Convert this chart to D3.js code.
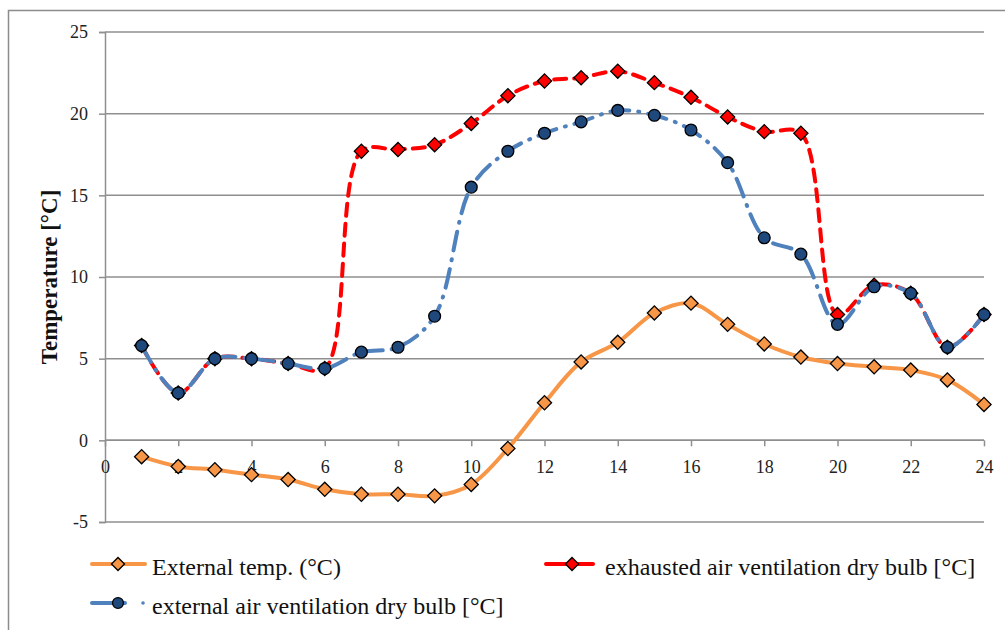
<!DOCTYPE html>
<html>
<head>
<meta charset="utf-8">
<script src="https://cdn.jsdelivr.net/npm/d3@7"></script>
<style>
  html, body { margin: 0; padding: 0; background: #fff; }
  svg { display: block; }
  svg text { font-family: "Liberation Serif", "Times New Roman", serif; }
</style>
</head>
<body>
<svg id="chart" width="1005" height="630"></svg>
<script>
// Hour of the day
const hours = [1,2,3,4,5,6,7,8,9,10,11,12,13,14,15,16,17,18,19,20,21,22,23,24];

// Outside air temperature (°C)
const externalTemp = [-1.0,-1.6,-1.8,-2.1,-2.4,-3.0,-3.3,-3.3,-3.4,-2.7,-0.5,2.3,4.8,6.0,7.8,8.4,7.1,5.9,5.1,4.7,4.5,4.3,3.7,2.2];

// Exhausted air ventilation dry bulb (°C)
const exhaustedAir = [5.8,2.9,5.0,5.0,4.7,4.4,17.7,17.8,18.1,19.4,21.1,22.0,22.2,22.6,21.9,21.0,19.8,18.9,18.8,7.7,9.5,9.0,5.7,7.7];

// External air ventilation dry bulb (°C)
const externalAir = [5.8,2.9,5.0,5.0,4.7,4.4,5.4,5.7,7.6,15.5,17.7,18.8,19.5,20.2,19.9,19.0,17.0,12.4,11.4,7.1,9.4,9.0,5.7,7.7];

const xTicks = [0,2,4,6,8,10,12,14,16,18,20,22,24];
const yTicks = [-5,0,5,10,15,20,25];

const seriesNames = [
  "External temp. (°C)",
  "exhausted air ventilation dry bulb [°C]",
  "external air ventilation dry bulb [°C]"
];

const serif = "'Liberation Serif', 'Times New Roman', serif";
const svg = d3.select("#chart");

// outer chart frame
svg.append("rect")
  .attr("x", 8.5).attr("y", 10.5)
  .attr("width", 1010).attr("height", 640)
  .attr("fill", "none").attr("stroke", "#8c8c8c").attr("stroke-width", 1.5);

const x = d3.scaleLinear().domain([0, 24]).range([105, 984]);
const y = d3.scaleLinear().domain([-5, 25]).range([522, 32]);

const gridColor = "#8f8f8f";

// horizontal gridlines
svg.append("g").selectAll("line").data(yTicks).join("line")
  .attr("x1", x(0)).attr("x2", x(24))
  .attr("y1", d => y(d)).attr("y2", d => y(d))
  .attr("stroke", gridColor).attr("stroke-width", 1.5);

// y axis
const yAxis = svg.append("g")
  .attr("transform", `translate(${x(0)},0)`)
  .call(d3.axisLeft(y).tickValues(yTicks).tickSize(6).tickPadding(11).tickFormat(d => String(d)));
yAxis.attr("font-family", null);
yAxis.select(".domain").attr("stroke", gridColor).attr("stroke-width", 1.5);
yAxis.selectAll(".tick line").attr("stroke", gridColor).attr("stroke-width", 1.5);
yAxis.selectAll(".tick text")
  .style("font-family", serif)
  .style("font-size", "18px").attr("fill", "#222");

// x axis drawn along y = 0
const xAxis = svg.append("g")
  .attr("transform", `translate(0,${y(0)})`)
  .call(d3.axisBottom(x).tickValues(xTicks).tickSize(6).tickPadding(14).tickFormat(d => String(d)));
xAxis.attr("font-family", null);
xAxis.select(".domain").attr("stroke", gridColor).attr("stroke-width", 1.5)
  .attr("d", `M${x(0)},0H${x(24)}`);
xAxis.selectAll(".tick line").attr("stroke", gridColor).attr("stroke-width", 1.5);
xAxis.selectAll(".tick text")
  .style("font-family", serif)
  .style("font-size", "18px").attr("fill", "#222");

// y axis title
svg.append("text")
  .attr("transform", `translate(57,${(y(-5) + y(25)) / 2}) rotate(-90)`)
  .attr("text-anchor", "middle")
  .style("font-family", serif)
  .style("font-size", "23px").style("font-weight", "bold").attr("fill", "#111")
  .text("Temperature [°C]");

const curve = d3.curveCatmullRom.alpha(0.5);
const lineGen = d3.line().x(d => x(d[0])).y(d => y(d[1])).curve(curve);

const diamond = d3.symbol().type(d3.symbolSquare).size(100);
const circle = d3.symbol().type(d3.symbolCircle).size(100);

const series = [
  { vals: externalTemp, color: "#F79646", dash: null, width: 4, marker: "diamond", fill: "#F79646" },
  { vals: exhaustedAir, color: "#FF0000", dash: "12,8", width: 4, marker: "diamond", fill: "#FF0000" },
  { vals: externalAir, color: "#4F81BD", dash: "19,9,1,9", width: 4, marker: "circle", fill: "#1F497D" }
];

function drawMarker(g, s, cx, cy, scale = 1) {
  const p = g.append("path")
    .attr("fill", s.fill).attr("stroke", "#000").attr("stroke-width", 1.3);
  if (s.marker === "diamond") {
    p.attr("d", diamond.size(100 * scale)())
     .attr("transform", `translate(${cx},${cy}) rotate(45)`);
  } else {
    p.attr("d", circle.size(110 * scale)())
     .attr("transform", `translate(${cx},${cy})`);
  }
}

series.forEach(s => {
  const pts = hours.map((h, i) => [h, s.vals[i]]);
  const g = svg.append("g");
  g.append("path")
    .attr("d", lineGen(pts))
    .attr("fill", "none")
    .attr("stroke", s.color)
    .attr("stroke-width", s.width)
    .attr("stroke-linecap", "round")
    .attr("stroke-dasharray", s.dash);
  pts.forEach(p => drawMarker(g, s, x(p[0]), y(p[1])));
});

// legend
const legendItems = [
  { s: series[0], x1: 92, x2: 145, mx: 118, ly: 564, tx: 152, name: seriesNames[0] },
  { s: series[1], x1: 546, x2: 593, mx: 572, ly: 564, tx: 605, name: seriesNames[1] },
  { s: series[2], x1: 92, x2: 125, mx: 118, ly: 603, tx: 152, name: seriesNames[2], dot: 143 }
];
legendItems.forEach(it => {
  const g = svg.append("g");
  g.append("line")
    .attr("x1", it.x1).attr("x2", it.x2)
    .attr("y1", it.ly).attr("y2", it.ly)
    .attr("stroke", it.s.color).attr("stroke-width", it.s.width).attr("stroke-linecap", "round");
  if (it.dot) {
    g.append("circle").attr("cx", it.dot).attr("cy", it.ly).attr("r", 1.8).attr("fill", it.s.color);
  }
  drawMarker(g, it.s, it.mx, it.ly, 0.85);
  g.append("text")
    .attr("x", it.tx).attr("y", it.ly + 11)
    .style("font-family", serif)
    .style("font-size", "24px").attr("fill", "#111")
    .text(it.name);
});
</script>
</body>
</html>
